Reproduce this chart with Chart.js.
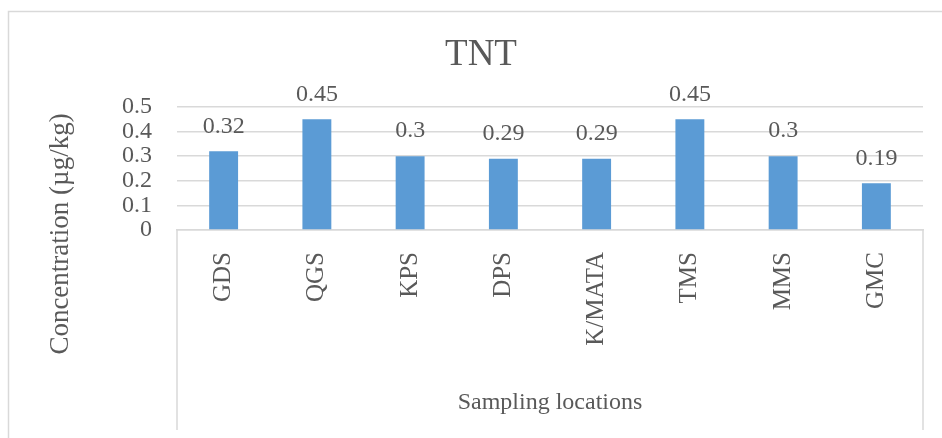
<!DOCTYPE html>
<html>
<head>
<meta charset="utf-8">
<script src="https://cdn.jsdelivr.net/npm/chart.js@4/dist/chart.umd.min.js"></script>
<style>
html,body{margin:0;padding:0;background:#fff;}
#wrap{width:942px;height:438px;position:relative;}
</style>
</head>
<body>
<div id="wrap"><canvas id="c" width="942" height="438"></canvas></div>
<script>
const categories = ["GDS", "QGS", "KPS", "DPS", "K/MATA", "TMS", "MMS", "GMC"];
const tntValues = [0.32, 0.45, 0.3, 0.29, 0.29, 0.45, 0.3, 0.19];
const valueLabels = ["0.32", "0.45", "0.3", "0.29", "0.29", "0.45", "0.3", "0.19"];
const yTickLabels = ["0", "0.1", "0.2", "0.3", "0.4", "0.5"];
const chartTitle = "TNT";
const yTitle = "Concentration (µg/kg)";
const xTitle = "Sampling locations";

const FONT = "'Liberation Serif', 'Times New Roman', serif";
const TXT = "#595959";
const GRID = "#d9d9d9";

const decor = {
  id: 'decor',
  beforeDraw(chart) {
    const ctx = chart.ctx;
    ctx.save();
    ctx.strokeStyle = GRID;
    ctx.lineWidth = 1.5;
    ctx.strokeRect(8.5, 11.5, 1200, 1200);
    ctx.restore();
  },
  afterDraw(chart) {
    const ctx = chart.ctx;
    const a = chart.chartArea;
    ctx.save();
    ctx.strokeStyle = GRID;
    ctx.lineWidth = 1.5;
    ctx.beginPath();
    ctx.moveTo(a.left, a.bottom);
    ctx.lineTo(a.left, 430);
    ctx.moveTo(a.right, a.bottom);
    ctx.lineTo(a.right, 430);
    ctx.stroke();
    // chart title
    ctx.fillStyle = TXT;
    ctx.textAlign = 'center';
    ctx.textBaseline = 'middle';
    ctx.font = "37px " + FONT;
    ctx.fillText(chartTitle, 481, 55);
    // y axis title
    ctx.font = "27px " + FONT;
    ctx.translate(61, 234);
    ctx.rotate(-Math.PI / 2);
    ctx.fillText(yTitle, 0, 0);
    ctx.restore();
  },
  afterDatasetsDraw(chart) {
    const ctx = chart.ctx;
    const meta = chart.getDatasetMeta(0);
    ctx.save();
    ctx.fillStyle = TXT;
    ctx.font = "24px " + FONT;
    ctx.textAlign = 'center';
    ctx.textBaseline = 'middle';
    meta.data.forEach((bar, i) => {
      ctx.fillText(valueLabels[i], bar.x, bar.y - 25);
    });
    ctx.restore();
  }
};

new Chart(document.getElementById('c'), {
  type: 'bar',
  data: {
    labels: categories,
    datasets: [{
      label: 'TNT',
      data: tntValues,
      backgroundColor: '#5B9BD5',
      borderWidth: 0,
      barPercentage: 0.31,
      categoryPercentage: 1.0
    }]
  },
  plugins: [decor],
  options: {
    responsive: false,
    animation: false,
    layout: { padding: { left: 0, right: 19, top: 107, bottom: 0 } },
    plugins: {
      legend: { display: false },
      tooltip: { enabled: false },
      title: { display: false }
    },
    scales: {
      x: {
        grid: { display: false, drawTicks: false },
        border: { display: true, color: GRID, width: 1.5 },
        ticks: {
          color: TXT,
          font: { family: FONT, size: 25 },
          minRotation: 90,
          maxRotation: 90,
          padding: 22,
          autoSkip: false
        },
        title: {
          display: true,
          text: xTitle,
          color: TXT,
          font: { family: FONT, size: 24, lineHeight: 1.2 },
          padding: { top: 0, bottom: 21 }
        },
        afterFit(scale) { scale.height = 208; }
      },
      y: {
        min: 0,
        max: 0.5,
        grid: { color: GRID, lineWidth: 1.5, drawTicks: false },
        border: { display: false },
        ticks: {
          stepSize: 0.1,
          autoSkip: false,
          color: TXT,
          font: { family: FONT, size: 24 },
          padding: 25,
          callback: (v, i) => yTickLabels[i]
        },
        afterFit(scale) { scale.width = 177; }
      }
    }
  }
});
</script>
</body>
</html>
